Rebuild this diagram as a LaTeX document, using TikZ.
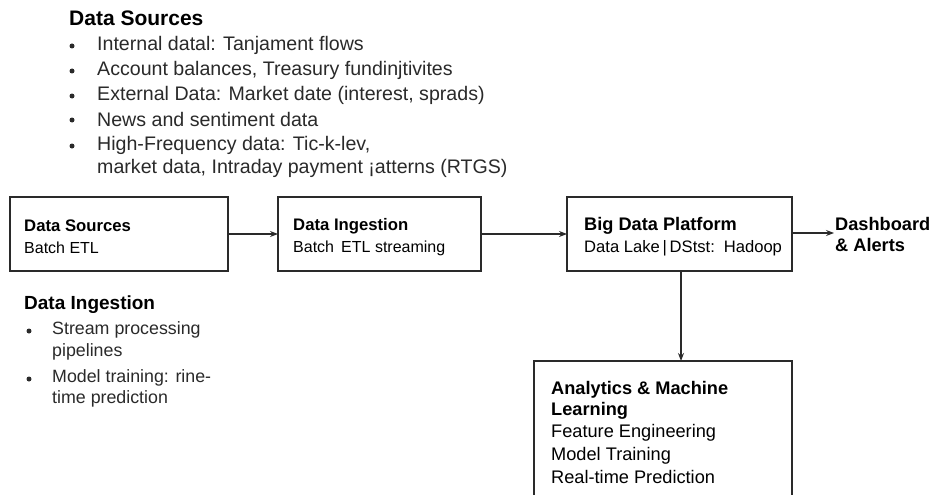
\documentclass[tikz,border=0pt]{standalone}
\usepackage{fontspec}
\setmainfont{Liberation Sans}
\usetikzlibrary{arrows.meta}
\definecolor{ink}{HTML}{2A2A2A}
\begin{document}
\begin{tikzpicture}[x=1pt,y=-1pt,
  box/.style={draw=ink, line width=1.3pt},
  arr/.style={-{Stealth[length=8pt,width=6pt]}, line width=1.2pt, draw=ink},
  head/.style={anchor=west, font=\fontsize{21}{24}\selectfont\bfseries, inner sep=0pt},
  item/.style={anchor=west, font=\fontsize{19.6}{23}\selectfont, inner sep=0pt},
  head2/.style={anchor=west, font=\fontsize{19}{22}\selectfont\bfseries, inner sep=0pt},
  item2/.style={anchor=west, font=\fontsize{17.8}{21}\selectfont, inner sep=0pt},
  btitle/.style={anchor=west, font=\fontsize{16.7}{20}\selectfont\bfseries, inner sep=0pt},
  btext/.style={anchor=west, font=\fontsize{16}{19}\selectfont, inner sep=0pt},
  btitleL/.style={anchor=west, font=\fontsize{18.2}{21}\selectfont\bfseries, inner sep=0pt},
  btextL/.style={anchor=west, font=\fontsize{16.6}{20}\selectfont, inner sep=0pt},
  btextX/.style={anchor=west, font=\fontsize{18.2}{21}\selectfont, inner sep=0pt},
  dot/.style={circle, fill=ink, inner sep=0pt, minimum size=5pt}]
\useasboundingbox (0,0) rectangle (932,495);
\fill[white] (0,0) rectangle (932,495);

% top list
\node[head] (h1) at (69,18) {Data Sources};
\foreach \y/\t [count=\i] in {45/{Internal datal: Tanjament flows},
  70/{Account balances, Treasury fundinjtivites},
  95/{External Data: Market date (interest, sprads)},
  119/{News and sentiment data},
  145/{High-Frequency data: Tic-k-lev,}} {
  \node[dot] (d\i) at (72,\y+1) {};
  \node[item, text=ink] (t\i) at (97,\y) {\t};
}
\node[item, text=ink] (t6) at (97,168) {market data, Intraday payment ¡atterns (RTGS)};

% boxes
\draw[box] (10,197) rectangle (228,271);
\coordinate (b1w) at (10,234); \coordinate (b1e) at (228,234);
\node[btitle] (b1a) at (24,226) {Data Sources};
\node[btext] (b1b) at (24,248) {Batch ETL};

\draw[box] (278,197) rectangle (481,271);
\coordinate (b2w) at (278,234); \coordinate (b2e) at (481,234);
\node[btitle] (b2a) at (293,226) {Data Ingestion};
\node[btext] (b2b) at (293,248) {Batch\, ETL streaming};

\draw[box] (567,197) rectangle (792,271);
\coordinate (b3w) at (567,234); \coordinate (b3e) at (792,233);
\coordinate (b3s) at (681,271);
\node[btitleL] (b3a) at (584,226) {Big Data Platform};
\node[btextL] (b3b) at (584,248) {Data Lake\,|\,DStst:\, Hadoop};

\node[btitleL] (dash1) at (835,224) {Dashboard};
\node[btitleL] (dash2) at (835,245) {\& Alerts};
\coordinate (dashin) at (834,233);

\draw[box] (534,500) -- (534,361) -- (792,361) -- (792,500);
\coordinate (b4n) at (681,361);
\node[btitleL] (b4a) at (551,390) {Analytics \& Machine};
\node[btitleL] (b4b) at (551,411) {Learning};
\node[btextX] (b4c) at (551,433) {Feature Engineering};
\node[btextX] (b4d) at (551,456) {Model Training};
\node[btextX] (b4e) at (551,477) {Real-time Prediction};

\draw[arr] (b1e) -- (b2w);
\draw[arr] (b2e) -- (b3w);
\draw[arr] (b3e) -- (dashin);
\draw[arr] (b3s) -- (b4n);

% lower list
\node[head2] (h2) at (24,305) {Data Ingestion};
\node[dot] (e1) at (29,331) {};
\node[item2, text=ink] (u1) at (52,330) {Stream processing};
\node[item2, text=ink] (u2) at (52,352) {pipelines};
\node[dot] (e2) at (29,379) {};
\node[item2, text=ink] (u3) at (52,378) {Model training: rine-};
\node[item2, text=ink] (u4) at (52,399) {time prediction};
\end{tikzpicture}
\end{document}
